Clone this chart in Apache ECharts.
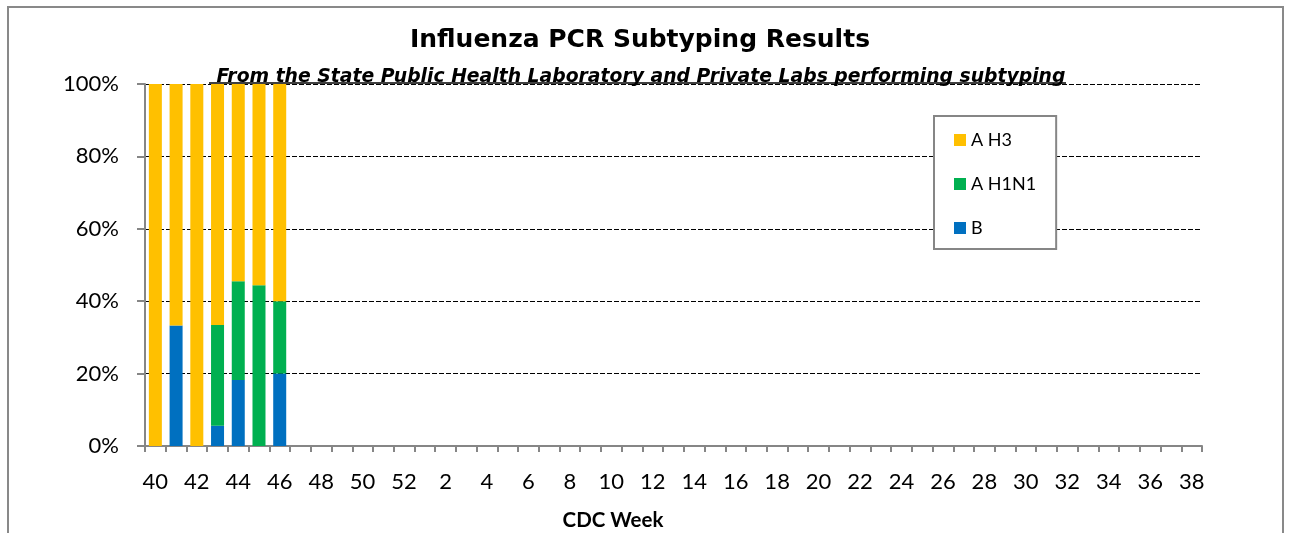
<!DOCTYPE html>
<html>
<head>
<meta charset="utf-8">
<script src="https://cdn.jsdelivr.net/npm/echarts@6/dist/echarts.min.js"></script>
<style>
  html, body { margin: 0; padding: 0; background: #fff; overflow: hidden; }
  #main { width: 1289px; height: 533px; }
</style>
</head>
<body>
<div id="main"></div>
<script>
// CDC weeks, season 40 -> 38
var weeks = ['40','41','42','43','44','45','46','47','48','49','50','51','52',
  '1','2','3','4','5','6','7','8','9','10','11','12','13','14','15','16','17','18','19','20',
  '21','22','23','24','25','26','27','28','29','30','31','32','33','34','35','36','37','38'];
// percent of subtyped specimens
var bValues    = [0, 33.3, 0, 5.6, 18.2, 0, 20];
var h1n1Values = [0, 0, 0, 27.8, 27.3, 44.4, 20];
var h3Values   = [100, 66.7, 100, 66.7, 54.5, 55.6, 60];
var yTicks = [0, 20, 40, 60, 80, 100];

var fontMain = 'Lato, "Noto Sans", sans-serif';
var axisGray = '#868686';

var myChart = echarts.init(document.getElementById('main'));

function barSeries(name, values, color) {
  return {
    name: name,
    type: 'bar',
    stack: 'total',
    barWidth: 13,
    data: values,
    itemStyle: { color: color }
  };
}

myChart.setOption({
  animation: false,
  backgroundColor: '#fff',
  title: [{
    text: 'Influenza PCR Subtyping Results',
    left: 635,
    textAlign: 'center',
    top: 23,
    textStyle: { fontFamily: '"DejaVu Sans", sans-serif', fontSize: 25, fontWeight: 'bold', color: '#000' }
  }, {
    text: 'From the State Public Health Laboratory and Private Labs performing subtyping',
    left: 636,
    textAlign: 'center',
    top: 63,
    textStyle: { fontFamily: '"DejaVu Sans", sans-serif', fontSize: 18.8, fontWeight: 'bold', fontStyle: 'italic', color: '#000' }
  }, {
    text: 'CDC Week',
    left: 608,
    textAlign: 'center',
    top: 505,
    textStyle: { fontFamily: fontMain, fontSize: 20.5, fontWeight: 'bold', color: '#000' }
  }],
  graphic: [{
    // chart frame (bottom edge sits below the window)
    type: 'rect',
    shape: { x: 8, y: 7, width: 1275, height: 600 },
    style: { fill: 'none', stroke: '#898989', lineWidth: 2 },
    silent: true
  }, {
    // subtitle underline
    type: 'line',
    shape: { x1: 209, y1: 83, x2: 1066, y2: 83 },
    style: { stroke: '#000', lineWidth: 1.5 },
    silent: true
  }],
  legend: {
    data: ['A H3', 'A H1N1', 'B'],
    orient: 'vertical',
    left: 934,
    top: 116,
    padding: [15, 20, 12, 20],
    itemGap: 26,
    itemWidth: 12,
    itemHeight: 12,
    icon: 'rect',
    borderColor: axisGray,
    borderWidth: 2,
    borderRadius: 0,
    backgroundColor: '#fff',
    textStyle: { fontFamily: fontMain, fontSize: 18, color: '#000' }
  },
  grid: {
    left: 145,
    right: 87,
    top: 84,
    bottom: 87,
    containLabel: false
  },
  xAxis: {
    type: 'category',
    data: weeks,
    boundaryGap: true,
    axisLine: { lineStyle: { color: axisGray, width: 2 } },
    axisTick: { show: true, interval: 0, length: 6, lineStyle: { color: axisGray, width: 2 } },
    axisLabel: {
      interval: 1,
      margin: 25,
      fontFamily: fontMain,
      fontSize: 22,
      color: '#000'
    },
    splitLine: { show: false }
  },
  yAxis: {
    type: 'value',
    min: yTicks[0],
    max: yTicks[yTicks.length - 1],
    interval: 20,
    axisLine: { show: true, lineStyle: { color: axisGray, width: 2 } },
    axisTick: { show: true, length: 8, lineStyle: { color: axisGray, width: 2 } },
    axisLabel: {
      formatter: '{value}%',
      margin: 26,
      fontFamily: fontMain,
      fontSize: 22,
      color: '#000'
    },
    splitLine: { show: true, lineStyle: { color: '#000', width: 1, type: [5, 2] } }
  },
  series: [
    barSeries('B', bValues, '#0070C0'),
    barSeries('A H1N1', h1n1Values, '#00B050'),
    barSeries('A H3', h3Values, '#FFC000')
  ]
});
</script>
</body>
</html>
